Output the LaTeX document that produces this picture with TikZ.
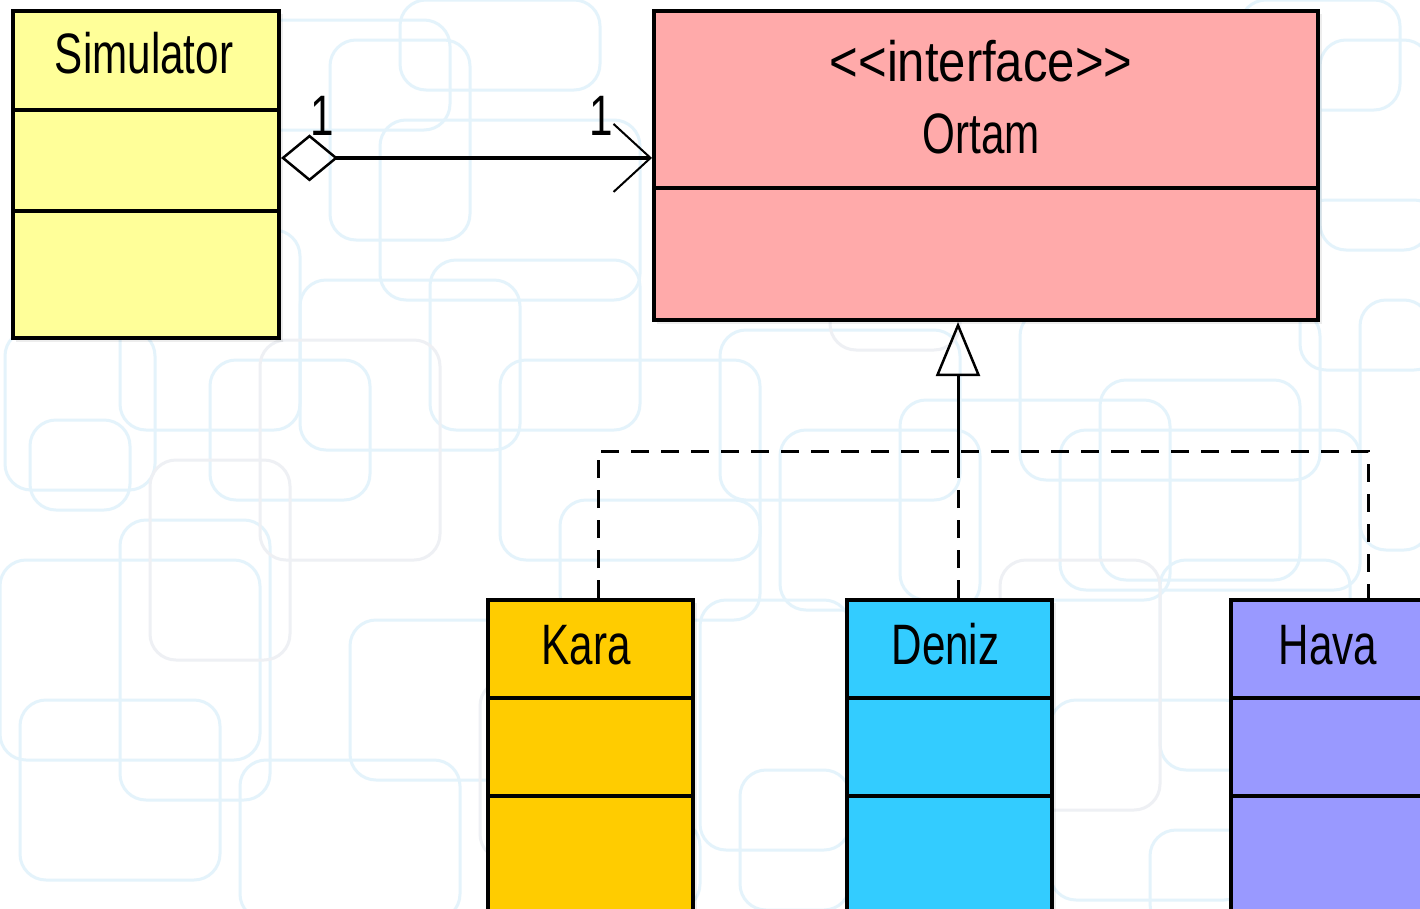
\documentclass[tikz,border=0pt]{standalone}
\usepackage{fontspec}
\usetikzlibrary{arrows.meta,calc}
\newfontfamily\umlfont{Liberation Sans}[FakeStretch=0.74]
\newfontfamily\umlwide{Liberation Sans}[FakeStretch=0.86]
\definecolor{simfill}{RGB}{255,255,153}
\definecolor{ortamfill}{RGB}{255,170,170}
\definecolor{karafill}{RGB}{255,204,0}
\definecolor{denizfill}{RGB}{51,204,255}
\definecolor{havafill}{RGB}{153,153,255}
\definecolor{patblue}{RGB}{228,243,251}
\definecolor{patgray}{RGB}{238,240,244}
\begin{document}
\begin{tikzpicture}[x=1pt,y=-1pt,
  classbox/.style={draw=black, line width=4pt, rectangle, inner sep=0pt, anchor=north west},
  divider/.style={line width=4pt},
  title/.style={anchor=base, inner sep=0pt, font=\umlfont\fontsize{57}{60}\selectfont},
  stereo/.style={anchor=base, inner sep=0pt, font=\umlwide\fontsize{57}{60}\selectfont},
  bgpat/.style={draw=patblue, line width=3pt, rounded corners=26pt},
  bgpatg/.style={draw=patgray, line width=3pt, rounded corners=26pt},
  shadowbox/.style={fill=black, opacity=0.07},
  dashline/.style={line width=3pt, dash pattern=on 18pt off 12pt},
  gensolid/.style={line width=3pt}
]
\fill[white] (0,0) rectangle (1420,908);
\useasboundingbox (0,0) rectangle (1420,908);
% faint background pattern
\foreach \x/\y/\w/\h in {20/50/120/150, 60/150/200/160, 200/20/250/110, 330/40/140/200,
  380/120/260/180, 120/230/180/200, 5/330/150/160, 210/360/160/140, 300/280/220/170,
  430/260/210/170, 0/560/260/200, 120/520/150/280, 350/620/260/160, 20/700/200/180,
  240/760/220/160, 500/360/260/200, 560/500/200/120, 720/330/240/170, 780/430/200/180,
  900/400/270/200, 1020/310/300/170, 1100/380/200/200, 1060/430/300/160, 1320/40/110/210,
  1300/200/140/170, 1360/300/70/250, 1160/560/190/210, 700/600/150/250, 1050/700/200/200,
  1150/830/240/100, 400/0/200/90, 1240/0/160/110, 740/770/110/140, 600/820/100/90, 30/420/100/90}
  {\draw[bgpat] (\x,\y) rectangle ++(\w,\h);}
\foreach \x/\y/\w/\h in {150/460/140/200, 260/340/180/220, 830/200/130/150, 480/680/180/180,
  1000/560/160/250, 900/20/300/80}
  {\draw[bgpatg] (\x,\y) rectangle ++(\w,\h);}
% shadows
\fill[shadowbox] (16,14) rectangle (283,342);
\fill[shadowbox] (657,14) rectangle (1322,324);
\fill[shadowbox] (491,603) rectangle (697,940);
\fill[shadowbox] (850,603) rectangle (1056,940);
\fill[shadowbox] (1234,603) rectangle (1440,940);
% class boxes
\node[classbox, fill=simfill, minimum width=266pt, minimum height=327pt] (sim) at (11,9) {};
\node[classbox, fill=ortamfill, minimum width=664pt, minimum height=309pt] (ortam) at (652,9) {};
\node[classbox, fill=karafill, minimum width=205pt, minimum height=340pt] (kara) at (486,598) {};
\node[classbox, fill=denizfill, minimum width=205pt, minimum height=340pt] (deniz) at (845,598) {};
\node[classbox, fill=havafill, minimum width=205pt, minimum height=340pt] (hava) at (1229,598) {};
% compartments
\draw[divider] ($(sim.north west)+(0,101)$) -- ($(sim.north east)+(0,101)$);
\draw[divider] ($(sim.north west)+(0,202)$) -- ($(sim.north east)+(0,202)$);
\draw[divider] ($(ortam.north west)+(0,179)$) -- ($(ortam.north east)+(0,179)$);
\draw[divider] ($(kara.north west)+(0,100)$) -- ($(kara.north east)+(0,100)$);
\draw[divider] ($(kara.north west)+(0,198)$) -- ($(kara.north east)+(0,198)$);
\draw[divider] ($(deniz.north west)+(0,100)$) -- ($(deniz.north east)+(0,100)$);
\draw[divider] ($(deniz.north west)+(0,198)$) -- ($(deniz.north east)+(0,198)$);
\draw[divider] ($(hava.north west)+(0,100)$) -- ($(hava.north east)+(0,100)$);
\draw[divider] ($(hava.north west)+(0,198)$) -- ($(hava.north east)+(0,198)$);
% titles
\node[title] (simT) at (144,73) {Simulator};
\node[stereo] (ortamS) at (981,81) {<{}<interface>{}>};
\node[title] (ortamT) at (981,153) {Ortam};
\node[title] (karaT) at (586,664) {Kara};
\node[title] (denizT) at (945.5,664) {Deniz};
\node[title] (havaT) at (1328,664) {Hava};
% aggregation
\coordinate (aggS) at ($(sim.north east)!0.45!(sim.south east)$);
\draw[line width=4pt,
  {Diamond[open, length=57pt, width=47pt, line width=2.5pt]}-{Straight Barb[length=37pt, width=68pt, line width=2pt]}]
  (aggS) -- (ortam.west |- aggS);
\node[title] (m1) at (322,135) {1};
\node[title] (m2) at (601,135) {1};
% realization
\coordinate (jd) at (958,451);
\coordinate (jk) at (598,451);
\coordinate (jh) at (1368,451);
\draw[gensolid, -{Triangle[open, length=54pt, width=44pt, line width=2.5pt]}]
  ([yshift=-9pt]jd) -- (jd |- ortam.south);
\draw[dashline] (kara.north -| jk) -- (jk) -- (jh) -- (hava.north -| jh);
\draw[dashline] (deniz.north -| jd) -- (jd);
\end{tikzpicture}
\end{document}
